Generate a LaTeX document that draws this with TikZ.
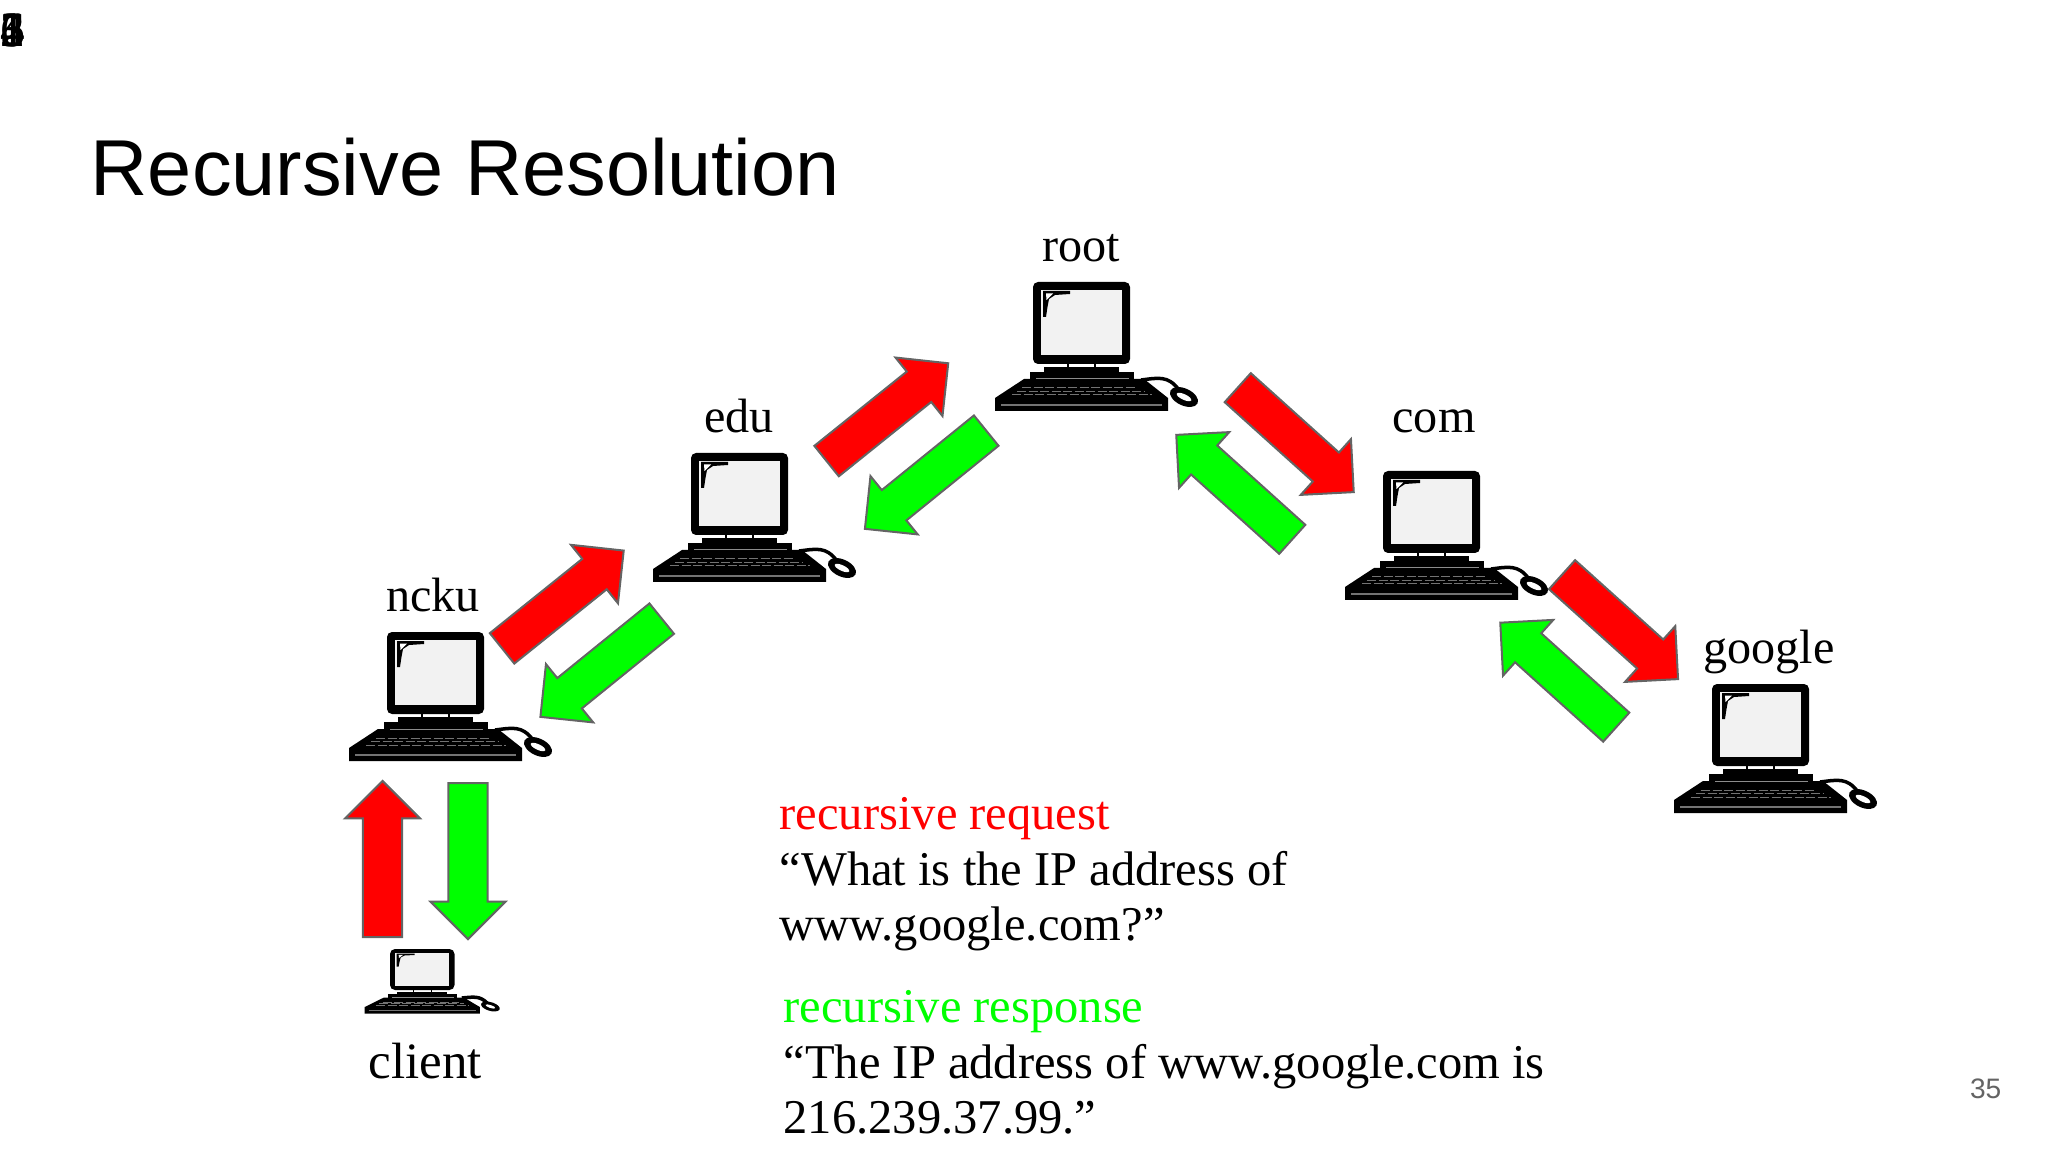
\documentclass[tikz,border=0pt]{standalone}
\usepackage{fontspec}
\setmainfont{Liberation Serif}
\newfontfamily\titlefont{Liberation Sans}
\usepackage{tikz}
\usetikzlibrary{shapes,arrows,positioning,calc}
\definecolor{request}{RGB}{255,0,0}
\definecolor{response}{RGB}{0,255,0}
\definecolor{edgegray}{RGB}{100,100,100}
\tikzset{
    label/.style={inner sep=0pt,anchor=base,font=\fontsize{13.7}{15.8}\selectfont},
    note/.style={inner sep=0pt,anchor=north west,align=left,font=\fontsize{13.8}{15.8}\selectfont},
    block/.style={single arrow,anchor=tail,draw=edgegray,line width=0.02cm,inner sep=0pt,text height=0.37cm,text depth=0pt,
        minimum height=1.56cm,minimum width=0.73cm,single arrow head extend=0.18cm},
    reqarrow/.style={block,fill=request},
    resarrow/.style={block,fill=response},
    pics/computer/.style={code={
        % Screen
        \fill[black,rounded corners=0.05cm] (0,0) rectangle (97,82);
        \fill[black!5] (8,8) rectangle (89,73);
        \fill[black] (10,9) -- (37,9) -- (37,12) -- (22,13) -- (16,17) -- (14.5,25) -- (13,35) -- (10,35) -- cycle;
        \fill[white] (13,11.5) -- (20,11.5) -- (13.5,18) -- cycle;
        % Stand
        \draw[black,line width=0.012cm] (35,82) -- (35,85) (62,82) -- (62,85);
        \fill[black] (11,85) rectangle (86,90);
        \fill[black] (-3,90) rectangle (101,97);
        % Keyboard
        \fill[black] (-38,116) -- (-9,97) -- (111,97) -- (135,116) -- (135,129) -- (-38,129) -- cycle;
        \draw[black!45,line width=0.01cm] (3,97) -- (96,97);
        \draw[black!55,line width=0.012cm] (-32,123) -- (129,123);
        \draw[black!55,line width=0.01cm,dash pattern=on 0.09cm off 0.025cm]
            (-11,106) -- (104,106) (-16,109.5) -- (111,109.5) (-21,113) -- (119,113);
        % Mouse
        \draw[black,line width=0.035cm] (108,98) .. controls (125,96) and (135,93) .. (146,108);
        \fill[black] (151,115) ellipse [x radius=15,y radius=8.5,rotate=-25];
        \fill[white] (151,115) ellipse [x radius=8,y radius=2.8,rotate=-25];
    }}
}

\begin{document}
\begin{tikzpicture}[x=0.01cm,y=-0.01cm]
    \useasboundingbox (0,0) rectangle (2048,1152);

    % Stray numbers in the corner
    \foreach \n in {1,...,6}
        \node[inner sep=0pt,anchor=base west,font=\fontsize{14}{14}\selectfont] (page\n) at (0,47) {\n};

    \node[inner sep=0pt,anchor=base west,font=\titlefont\fontsize{22.55}{24}\selectfont] (title) at (90,196) {Recursive Resolution};

    % Computers
    \pic (root) at (1033,282) {computer};
    \pic (edu) at (691,453) {computer};
    \pic (com) at (1383,471) {computer};
    \pic (ncku) at (387,632) {computer};
    \pic (google) at (1712,684) {computer};
    \pic[xscale=0.665,yscale=0.5] (client) at (390,949) {computer};

    % Names
    \node[label] (rootname) at (1081,262) {root};
    \node[label] (eduname) at (739,433) {edu};
    \node[label] (comname) at (1434,433) {com};
    \node[label] (nckuname) at (433,612) {ncku};
    \node[label] (googlename) at (1769,663) {google};
    \node[label,font=\fontsize{14.5}{16}\selectfont] (clientname) at (425,1078) {client};

    % Requests going up
    \node[reqarrow,rotate=90] (req1) at (382.5,938) {};
    \node[reqarrow,rotate=38.8] (req2) at (501.3,649) {};
    \node[reqarrow,rotate=38.8] (req3) at (825.8,461.7) {};
    \node[reqarrow,rotate=-42] (req4) at (1237,387) {};
    \node[reqarrow,rotate=-42] (req5) at (1561.3,574) {};

    % Responses coming back
    \node[resarrow,rotate=-90] (res1) at (468,782) {};
    \node[resarrow,rotate=219] (res2) at (662.5,618) {};
    \node[resarrow,rotate=219] (res3) at (987,430) {};
    \node[resarrow,rotate=138] (res4) at (1293,540) {};
    \node[resarrow,rotate=138] (res5) at (1617,727.8) {};

    % Explanations
    \node[note] (reqtext) at (779,797)
        {\textcolor{request}{recursive request}\\``What is the IP address of\\www.google.com?''};
    \node[note] (restext) at (783,990)
        {\textcolor{response}{recursive response}\\``The IP address of www.google.com is\\216.239.37.99.''};

    \node[inner sep=0pt,anchor=base east,text=edgegray,font=\titlefont\fontsize{8}{9}\selectfont] (pagenum) at (2002,1098) {35};
\end{tikzpicture}
\end{document}
